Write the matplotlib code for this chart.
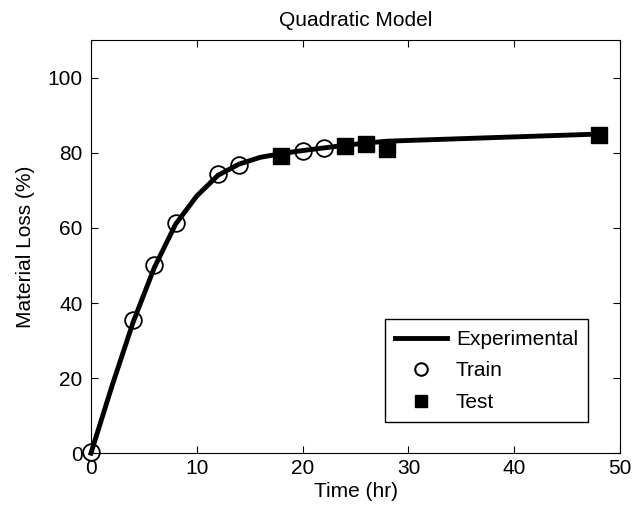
import matplotlib.pyplot as plt
from matplotlib.lines import Line2D

plt.rcParams['font.family'] = ['Liberation Sans', 'DejaVu Sans']

# Experimental curve
exp_time = [0, 2, 4, 6, 8, 10, 12, 14, 16, 18, 20, 22, 24, 26, 28, 48]
exp_loss = [0, 18, 35, 49.5, 61, 68.5, 74, 77, 78.8, 79.8, 80.6, 81.3, 82, 82.6, 83.1, 85]

# Training points
train_time = [0, 4, 6, 8, 12, 14, 20, 22]
train_loss = [0.3, 35.6, 50.2, 61.3, 74.4, 76.8, 80.6, 81.4]

# Test points
test_time = [18, 24, 26, 28, 48]
test_loss = [79.2, 81.9, 82.4, 80.9, 84.8]

fig = plt.figure(figsize=(6.36, 5.15), dpi=100)
ax = fig.add_axes([0.143, 0.120, 0.832, 0.802])

ax.plot(exp_time, exp_loss, color='black', lw=3.5, zorder=2, clip_on=False)
ax.plot(train_time, train_loss, 'o', ms=12, mfc='none', mec='black', mew=1.3,
        zorder=3, clip_on=False)
ax.plot(test_time, test_loss, 's', ms=12, mfc='black', mec='black', zorder=3,
        clip_on=False)

ax.set_xlim(0, 50)
ax.set_ylim(0, 110)
ax.set_xticks([0, 10, 20, 30, 40, 50])
ax.set_yticks([0, 20, 40, 60, 80, 100])
ax.tick_params(direction='in', top=True, right=True, labelsize=15, length=5,
               pad=4)
ax.tick_params(axis='y', pad=6)
ax.set_xlabel('Time (hr)', fontsize=15, labelpad=3)
ax.set_ylabel('Material Loss (%)', fontsize=15, labelpad=9)
ax.set_title('Quadratic Model', fontsize=15, pad=10)

handles = [
    Line2D([], [], color='black', lw=3.5),
    Line2D([], [], marker='o', ls='none', ms=9, mfc='none', mec='black', mew=1.5),
    Line2D([], [], marker='s', ls='none', ms=9, mfc='black', mec='black'),
]
ax.legend(handles, ['Experimental', 'Train', 'Test'], loc='lower right',
          bbox_to_anchor=(0.94, 0.075), fontsize=15, fancybox=False,
          edgecolor='black', framealpha=1, handlelength=2.5, borderpad=0.5,
          labelspacing=0.6, handletextpad=0.4, borderaxespad=0)

fig.savefig('out.png')
